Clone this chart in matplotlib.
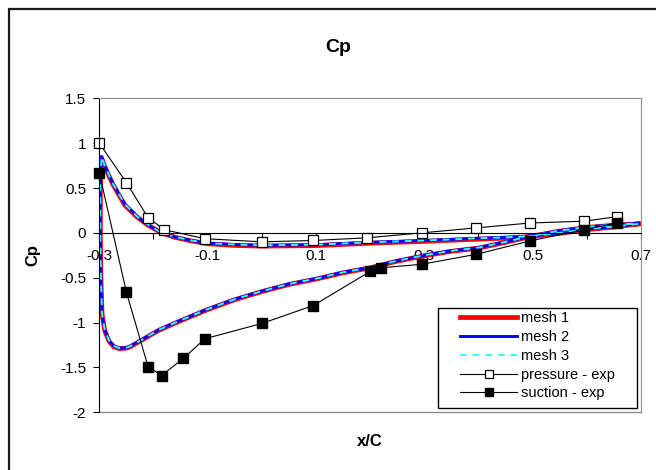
import numpy as np
import matplotlib
matplotlib.use("Agg")
import matplotlib.pyplot as plt
from matplotlib.patches import Rectangle

plt.rcParams['font.family'] = ['Liberation Sans', 'DejaVu Sans']

# CFD loop: upper branch from trailing edge to leading edge, then lower branch back
mesh_x = [0.695, 0.65, 0.6, 0.55, 0.5, 0.45, 0.4, 0.3, 0.2, 0.1, 0.0, -0.05, -0.1,
          -0.13, -0.16, -0.185, -0.21, -0.23, -0.253, -0.275, -0.29, -0.296,
          -0.298, -0.298, -0.297, -0.295, -0.29, -0.282, -0.273, -0.263, -0.25,
          -0.243, -0.22, -0.19, -0.15, -0.1, -0.05, 0.0, 0.05, 0.1, 0.15, 0.2,
          0.25, 0.3, 0.35, 0.4, 0.45, 0.5, 0.55, 0.6, 0.65, 0.695]
mesh2_y = [0.10, 0.07, 0.04, 0.0, -0.035, -0.05, -0.06, -0.085, -0.105, -0.132,
           -0.138, -0.13, -0.115, -0.085, -0.045, 0.0, 0.09, 0.18, 0.32, 0.55,
           0.75, 0.85,
           0.5, 0.0, -0.5, -0.9, -1.08, -1.2, -1.26, -1.285, -1.28,
           -1.265, -1.186, -1.08, -0.975, -0.85, -0.74, -0.65, -0.57, -0.51,
           -0.44, -0.385, -0.31, -0.25, -0.2, -0.165, -0.1, -0.03, 0.025, 0.065,
           0.09, 0.105]
mesh1_y = [0.10, 0.065, 0.035, -0.005, -0.04, -0.058, -0.07, -0.095, -0.115, -0.142,
           -0.148, -0.14, -0.122, -0.09, -0.05, 0.0, 0.085, 0.175, 0.31, 0.54,
           0.74, 0.84,
           0.5, 0.0, -0.5, -0.9, -1.09, -1.21, -1.27, -1.29, -1.285,
           -1.27, -1.19, -1.085, -0.98, -0.855, -0.745, -0.655, -0.575, -0.515,
           -0.445, -0.39, -0.315, -0.255, -0.205, -0.17, -0.105, -0.035, 0.02, 0.06,
           0.085, 0.10]
mesh3_y = mesh2_y

pressure_x = [-0.3, -0.25, -0.21, -0.18, -0.105, 0.0, 0.095, 0.195, 0.295, 0.395,
              0.495, 0.595, 0.655]
pressure_y = [1.0, 0.56, 0.17, 0.035, -0.065, -0.10, -0.085, -0.055, 0.0, 0.055,
              0.11, 0.13, 0.18]

suction_x = [-0.3, -0.25, -0.21, -0.185, -0.145, -0.105, 0.0, 0.095, 0.2, 0.22,
             0.295, 0.395, 0.495, 0.595, 0.655]
suction_y = [0.67, -0.66, -1.49, -1.59, -1.40, -1.18, -1.01, -0.81, -0.43, -0.39,
             -0.35, -0.24, -0.09, 0.035, 0.11]

xtick_vals = [-0.3, -0.2, -0.1, 0.0, 0.1, 0.2, 0.3, 0.4, 0.5, 0.6, 0.7]
xtick_labels = ['-0.3', '', '-0.1', '', '0.1', '', '0.3', '', '0.5', '', '0.7']
ytick_vals = [1.5, 1, 0.5, 0, -0.5, -1, -1.5, -2]
ytick_labels = ['1.5', '1', '0.5', '0', '-0.5', '-1', '-1.5', '-2']

fig = plt.figure(figsize=(6.56, 4.70), dpi=100)
ax = fig.add_axes([99.3/656, 1 - 412.3/470, 541.7/656, 314/470])

ax.plot(mesh_x, mesh1_y, color='#ff0000', lw=3.4, label='mesh 1')
ax.plot(mesh_x, mesh2_y, color='#0000ff', lw=2.1, label='mesh 2')
ax.plot(mesh_x, mesh3_y, color='#33ffff', lw=1.4, dashes=(3.5, 3), label='mesh 3')
ax.plot(pressure_x, pressure_y, color='black', lw=0.8, marker='s', ms=6.5,
        mfc='white', mec='black', mew=0.9, label='pressure - exp', clip_on=False)
ax.plot(suction_x, suction_y, color='black', lw=0.8, marker='s', ms=6.5,
        mfc='black', mec='black', label='suction - exp', clip_on=False)

ax.set_xlim(-0.3, 0.7)
ax.set_ylim(-2, 1.5)

ax.spines['bottom'].set_position(('data', 0))
ax.spines['bottom'].set_color('black')
ax.spines['left'].set_color('black')
for s in ['top', 'right']:
    ax.spines[s].set_color('#8c8c8c')
ax.axhline(-2, color='#8c8c8c', lw=1.0, clip_on=False, zorder=2.5)

ax.set_xticks(xtick_vals)
ax.set_xticklabels(xtick_labels)
ax.set_yticks(ytick_vals)
ax.set_yticklabels(ytick_labels)
ax.tick_params(axis='x', direction='out', length=4, pad=7.5, labelsize=11)
ax.tick_params(axis='y', direction='out', length=4.5, pad=5, labelsize=11)

fig.text(338/656, 1 - 47/470, 'Cp', ha='center', va='center',
         fontsize=14, fontweight='bold')
fig.text(370/656, 1 - 441/470, 'x/C', ha='center', va='center',
         fontsize=12, fontweight='bold')
fig.text(33/656, 1 - 255/470, 'Cp', ha='center', va='center', rotation=90,
         fontsize=12, fontweight='bold')

leg = ax.legend(loc='upper left', bbox_to_anchor=(0.666, 0.322), frameon=False,
                borderpad=0, borderaxespad=0, handlelength=3.9, handletextpad=0.3,
                labelspacing=0.33, fontsize=10.5, markerscale=0.8)
ax.add_patch(Rectangle((0.626, 0.0127), 0.367, 0.3185, transform=ax.transAxes,
                       fill=False, edgecolor='black', lw=1.0, zorder=5, clip_on=False))

# chart area border, cut off at right and bottom like the reference
fig.add_artist(Rectangle((9/656, -0.1), 1.2, 1.1 - 9/470, transform=fig.transFigure,
                         fill=False, edgecolor='#1a1a1a', lw=1.6))

fig.savefig('out.png', dpi=100, facecolor='white')
